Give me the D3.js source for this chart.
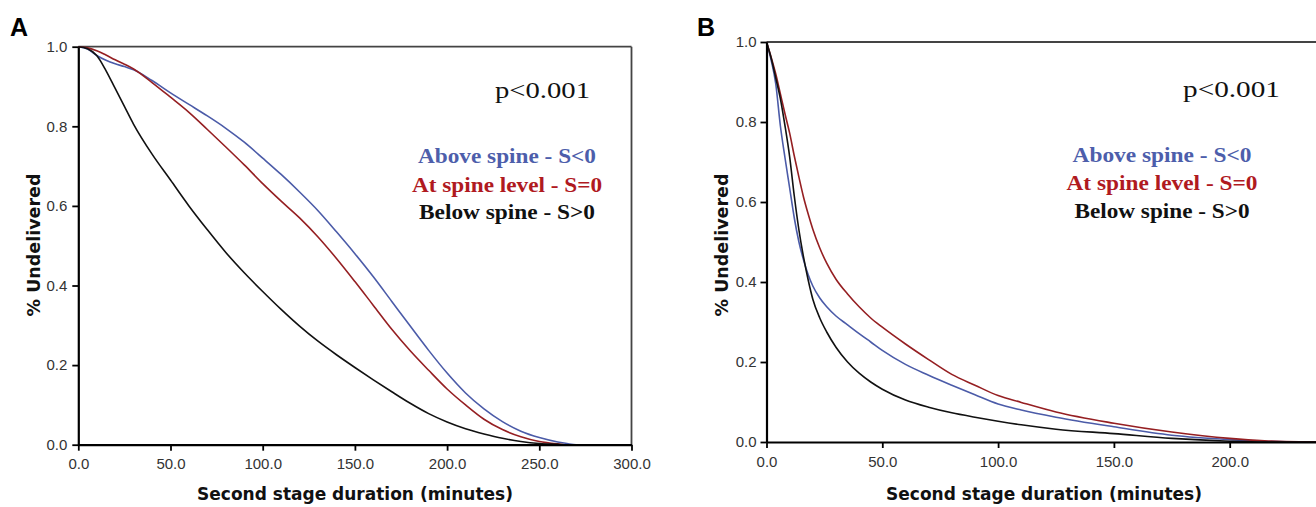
<!DOCTYPE html>
<html>
<head>
<meta charset="utf-8">
<script src="https://cdn.jsdelivr.net/npm/d3@7"></script>
<style>
  html, body { margin: 0; padding: 0; background: #fff; }
  svg { display: block; }
</style>
</head>
<body>
<svg id="chart" width="1316" height="507"></svg>
<script>
// ---------- Panel A data (minutes, survival proportion) ----------
const timesA = [0, 5, 10, 15, 20, 25, 30, 40, 50, 60, 70, 80, 90, 100, 110, 120, 130, 140, 150, 160, 170, 180, 190, 200, 210, 220, 230, 240, 250, 260, 265, 270, 300];
const aboveA = [1, .994, .978, .966, .957, .95, .942, .915, .884, .855, .826, .795, .76, .72, .679, .635, .588, .535, .48, .422, .36, .298, .237, .18, .13, .09, .058, .034, .018, .007, .003, 0, 0];
const atA    = [1, .997, .99, .979, .967, .956, .944, .91, .873, .835, .792, .748, .703, .656, .612, .57, .522, .468, .41, .35, .29, .236, .187, .14, .1, .064, .038, .02, .008, .002, 0, 0, 0];
const belowA = [1, .995, .978, .94, .895, .85, .805, .73, .665, .6, .54, .483, .432, .385, .34, .298, .26, .226, .194, .163, .133, .104, .078, .057, .04, .027, .016, .008, .003, .001, 0, 0, 0];

// ---------- Panel B data ----------
const timesB = [0, 2, 4, 6, 8, 10, 12, 14, 16, 18, 20, 23, 26, 30, 35, 40, 45, 50, 60, 70, 80, 90, 100, 110, 125, 150, 175, 200, 215, 230, 250];
const aboveB = [1, .955, .895, .79, .71, .635, .56, .50, .455, .418, .39, .36, .338, .315, .293, .271, .25, .229, .194, .167, .142, .118, .095, .08, .062, .038, .017, .006, .002, 0, 0];
const atB    = [1, .962, .92, .87, .82, .772, .715, .662, .612, .57, .532, .485, .447, .407, .37, .338, .31, .287, .245, .206, .169, .142, .116, .099, .075, .047, .025, .009, .003, .0005, 0];
const belowB = [1, .96, .91, .858, .79, .713, .615, .53, .462, .405, .357, .31, .275, .237, .20, .172, .15, .132, .105, .087, .073, .062, .052, .043, .032, .021, .009, .002, 0, 0, 0];

// ---------- Ticks / labels ----------
const xTicksA = [0, 50, 100, 150, 200, 250, 300];
const xTicksB = [0, 50, 100, 150, 200];
const yTicks = [0, 0.2, 0.4, 0.6, 0.8, 1.0];
const legendLabels = ["Above spine - S<0", "At spine level - S=0", "Below spine - S>0"];
const seriesColors = ["#4b5ba8", "#951f22", "#111111"];
const legendColors = ["#4d5eab", "#b01a1f", "#111111"];
const pText = "p<0.001";
const yTitle = "% Undelivered";
const xTitle = "Second stage duration (minutes)";

const svg = d3.select("#chart");
svg.append("rect").attr("width", 1316).attr("height", 507).attr("fill", "#fff");

function panel(cfg) {
  const x = d3.scaleLinear().domain(cfg.xDomain).range(cfg.xRange);
  const y = d3.scaleLinear().domain([0, 1]).range(cfg.yRange);
  const g = svg.append("g");

  // frame: top and right
  g.append("line")
    .attr("x1", x(cfg.xDomain[0])).attr("x2", x(cfg.xDomain[1]))
    .attr("y1", y(1)).attr("y2", y(1))
    .attr("stroke", "#444").attr("stroke-width", 1.8);
  g.append("line")
    .attr("x1", x(cfg.xDomain[1])).attr("x2", x(cfg.xDomain[1]))
    .attr("y1", y(1)).attr("y2", y(0))
    .attr("stroke", "#444").attr("stroke-width", 1.8);

  // curves
  const series = [cfg.above, cfg.at, cfg.below];
  const line = d3.line()
    .x((d, i) => x(cfg.times[i]))
    .y(d => y(d))
    .curve(d3.curveMonotoneX);
  series.forEach((s, k) => {
    g.append("path")
      .datum(s)
      .attr("d", line)
      .attr("fill", "none")
      .attr("stroke", seriesColors[k])
      .attr("stroke-width", 1.6);
  });

  // axes
  const xAxis = d3.axisBottom(x).tickValues(cfg.xTicks).tickFormat(d3.format(".1f")).tickSize(6).tickSizeOuter(0).tickPadding(8);
  const yAxis = d3.axisLeft(y).tickValues(yTicks).tickFormat(d3.format(".1f")).tickSize(6).tickSizeOuter(0).tickPadding(cfg.yPad);
  const gx = g.append("g").attr("transform", `translate(0,${y(0)})`).call(xAxis);
  const gy = g.append("g").attr("transform", `translate(${x(0)},0)`).call(yAxis);
  [gx, gy].forEach(a => {
    a.select(".domain").attr("stroke", "#000").attr("stroke-width", 2.2);
    a.selectAll(".tick line").attr("stroke", "#000").attr("stroke-width", 1.8);
    a.selectAll(".tick text")
      .attr("fill", "#333")
      .style("font-family", "'Liberation Sans', Arial, sans-serif")
      .style("font-size", "15px");
  });

  // axis titles
  g.append("text")
    .attr("x", cfg.xTitleX).attr("y", 500)
    .attr("text-anchor", "middle")
    .style("font-family", "'DejaVu Sans', Verdana, sans-serif")
    .style("font-weight", "bold").style("font-size", "17px")
    .attr("fill", "#111")
    .text(xTitle);
  g.append("text")
    .attr("transform", `translate(${cfg.yTitleX},245) rotate(-90)`)
    .attr("text-anchor", "middle")
    .style("font-family", "'DejaVu Sans', Verdana, sans-serif")
    .style("font-weight", "bold").style("font-size", "17.5px")
    .attr("fill", "#111")
    .text(yTitle);

  // panel letter
  g.append("text")
    .attr("x", cfg.letterX).attr("y", 36)
    .style("font-family", "'Liberation Sans', Arial, sans-serif")
    .style("font-weight", "bold").style("font-size", "25px")
    .attr("fill", "#000")
    .text(cfg.letter);

  // p value
  g.append("text")
    .attr("x", cfg.pX).attr("y", cfg.pY)
    .attr("textLength", cfg.pLen).attr("lengthAdjust", "spacingAndGlyphs")
    .style("font-family", "'Liberation Serif', 'Times New Roman', serif")
    .style("font-size", "23px")
    .attr("fill", "#111")
    .text(pText);

  // legend text
  legendLabels.forEach((lab, k) => {
    g.append("text")
      .attr("x", cfg.legX).attr("y", cfg.legY[k])
      .attr("text-anchor", "middle")
      .attr("textLength", cfg.legLen[k]).attr("lengthAdjust", "spacingAndGlyphs")
      .style("font-family", "'Liberation Serif', 'Times New Roman', serif")
      .style("font-weight", "bold").style("font-size", "21px")
      .attr("fill", legendColors[k])
      .text(lab);
  });
}

panel({
  xDomain: [0, 300], xRange: [78.3, 631.5], yRange: [444.7, 46.7],
  times: timesA, above: aboveA, at: atA, below: belowA,
  xTicks: xTicksA, yPad: 5, xTitleX: 355, yTitleX: 40,
  letter: "A", letterX: 10,
  pX: 495, pY: 98, pLen: 95,
  legX: 507, legY: [163, 191.5, 218.5], legLen: [178, 190, 176]
});

panel({
  xDomain: [0, 250], xRange: [766.5, 1345.5], yRange: [442, 42],
  times: timesB, above: aboveB, at: atB, below: belowB,
  xTicks: xTicksB, yPad: 4, xTitleX: 1044, yTitleX: 728,
  letter: "B", letterX: 697,
  pX: 1183, pY: 97, pLen: 97,
  legX: 1162, legY: [162, 190, 218], legLen: [179, 191, 175]
});
</script>
</body>
</html>
